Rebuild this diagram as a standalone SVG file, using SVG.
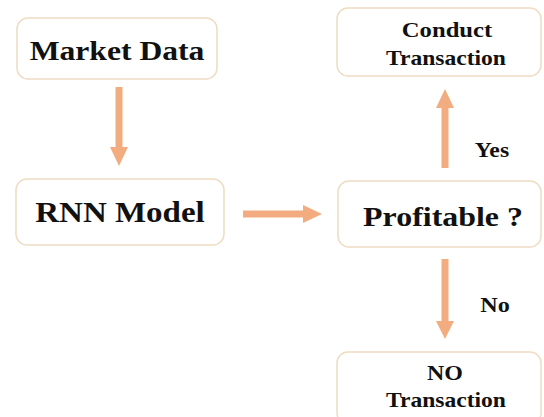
<svg xmlns="http://www.w3.org/2000/svg" width="544" height="417" viewBox="0 0 544 417">
  <style>
    .box { fill: #ffffff; stroke: #efdcc4; stroke-width: 1.5; }
    .edge { stroke: #f2ac80; stroke-width: 7; fill: none; }
    .head { fill: #f2ac80; }
    text { font-family: "Liberation Serif", serif; font-weight: bold; fill: #111111; text-anchor: middle; }
  </style>
  <rect width="544" height="417" fill="#ffffff"/>

  <g id="market-data">
    <rect class="box" x="17" y="18" width="200" height="61" rx="11"/>
    <text transform="translate(117,60) scale(1.13,1)" font-size="28">Market Data</text>
  </g>

  <g id="rnn-model">
    <rect class="box" x="16" y="179" width="208" height="66" rx="11"/>
    <text transform="translate(120,222) scale(1.1,1)" font-size="30">RNN Model</text>
  </g>

  <g id="profitable">
    <rect class="box" x="338" y="181" width="203" height="66" rx="11"/>
    <text transform="translate(443,226) scale(1.14,1)" font-size="28">Profitable ?</text>
  </g>

  <g id="conduct-transaction">
    <rect class="box" x="337" y="8" width="204" height="68" rx="11"/>
    <text transform="translate(447,37) scale(1.12,1)" font-size="22">Conduct</text>
    <text transform="translate(446,65) scale(1.07,1)" font-size="22">Transaction</text>
  </g>

  <g id="no-transaction">
    <rect class="box" x="337" y="352" width="204" height="72" rx="11"/>
    <text transform="translate(445,380) scale(1.09,1)" font-size="22">NO</text>
    <text transform="translate(446,407) scale(1.07,1)" font-size="22">Transaction</text>
  </g>

  <g id="connectors">
    <!-- Market Data -> RNN Model -->
    <line class="edge" x1="119" y1="87" x2="119" y2="148"/>
    <polygon class="head" points="110,147 128,147 119,166"/>
    <!-- RNN Model -> Profitable ? -->
    <line class="edge" x1="243" y1="214" x2="304" y2="214"/>
    <polygon class="head" points="303,205 303,223 322,214"/>
    <!-- Profitable ? -> Conduct Transaction (Yes) -->
    <line class="edge" x1="445" y1="168" x2="445" y2="106"/>
    <polygon class="head" points="436,108 454,108 445,89"/>
    <text transform="translate(492,157) scale(1.08,1)" font-size="22">Yes</text>
    <!-- Profitable ? -> NO Transaction (No) -->
    <line class="edge" x1="445" y1="259" x2="445" y2="322"/>
    <polygon class="head" points="436,321 454,321 445,339"/>
    <text transform="translate(495,312) scale(1.1,1)" font-size="22">No</text>
  </g>
</svg>
